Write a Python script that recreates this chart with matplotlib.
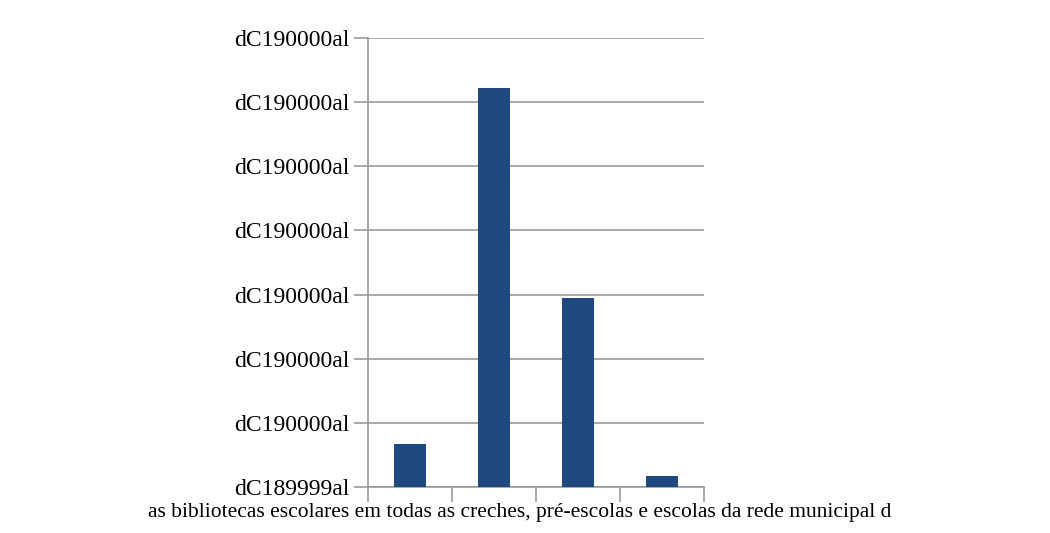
import matplotlib
matplotlib.use("Agg")
import matplotlib.pyplot as plt
from matplotlib.ticker import FuncFormatter

# bar values (axis starts at base)
categories = ["1", "2", "3", "4"]
values = [189999.517, 190000.072, 189999.745, 189999.467]
base = 189999.45
step = 0.1
nticks = 8
xlabel = "as bibliotecas escolares em todas as creches, pré-escolas e escolas da rede municipal d"

plt.rcParams['font.family'] = ['Liberation Serif', 'DejaVu Serif']

fig = plt.figure(figsize=(10.5, 5.33), dpi=100)
ax = fig.add_axes([368/1050, 1-487/533, 336/1050, 449/533])

x = list(range(len(categories)))
ax.bar(x, [v - base for v in values], bottom=base, width=0.38, color="#1f497d", zorder=3)

yticks = [base + step * i for i in range(nticks)]
ax.set_xlim(-0.5, 3.5)
ax.set_ylim(yticks[0], yticks[-1])
ax.set_yticks(yticks)
ax.yaxis.set_major_formatter(FuncFormatter(lambda v, p: f"dC{v:.0f}al"))
ax.set_xticks([-0.5, 0.5, 1.5, 2.5, 3.5])
ax.set_xticklabels([])

ax.grid(axis="y", color="#999999", linewidth=1.2, zorder=0)
ax.set_axisbelow(True)
for s in ["top", "right"]:
    ax.spines[s].set_visible(False)
for s in ["left", "bottom"]:
    ax.spines[s].set_color("#999999")
    ax.spines[s].set_linewidth(1.2)
ax.tick_params(axis="y", length=10, width=1.2, color="#999999", labelsize=17, pad=3)
ax.tick_params(axis="x", length=11, width=1.2, color="#999999")
ax.set_xlabel(xlabel, fontsize=15.5)
ax.xaxis.set_label_coords(152/336, -0.067)
ax.xaxis.label.set_va("baseline")

fig.savefig("out.png", dpi=100)
